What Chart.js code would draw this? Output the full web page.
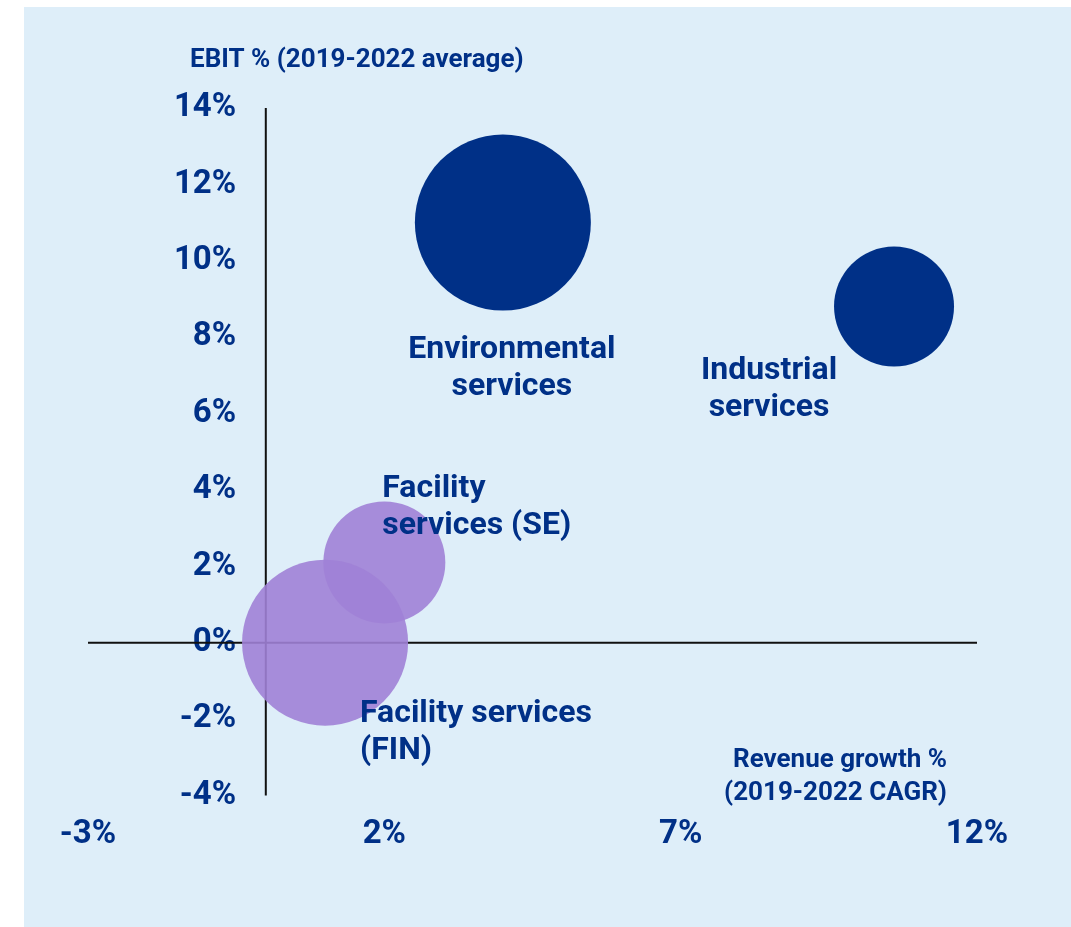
<!DOCTYPE html>
<html>
<head>
<meta charset="utf-8">
<title>Segment profitability and growth</title>
<script src="https://cdn.jsdelivr.net/npm/chart.js@4/dist/chart.umd.min.js"></script>
<style>
  html, body { margin: 0; padding: 0; background: #ffffff; }
  #wrap { width: 1071px; height: 927px; position: relative; }
</style>
</head>
<body>
<div id="wrap"><canvas id="chart" width="1071" height="927"></canvas></div>
<script>
// Business segments and their values
const segments = ['Environmental services', 'Industrial services', 'Facility services (SE)', 'Facility services (FIN)'];
const revenueGrowth = [4.0, 10.6, 2.0, 1.0];      // % revenue growth, 2019-2022 CAGR
const ebitMargin = [11.0, 8.8, 2.1, 0.0];         // % EBIT, 2019-2022 average
const bubbleSize = [88, 60, 61, 83];              // bubble radius
const segmentLabelLines = [
  ['Environmental', 'services'],
  ['Industrial', 'services'],
  ['Facility', 'services (SE)'],
  ['Facility services', '(FIN)']
];
const xTickValues = [-3, 2, 7, 12];
const yTickValues = [-4, -2, 0, 2, 4, 6, 8, 10, 12, 14];
const yAxisTitle = 'EBIT % (2019-2022 average)';
const xAxisTitleLines = ['Revenue growth %', '(2019-2022 CAGR)'];

// Styling
const NAVY = '#003087';
const PURPLE = 'rgba(160, 129, 214, 0.9)';
const PANEL = '#deeef9';
const FONT = 'Roboto, "Liberation Sans", sans-serif';
const WEIGHT = 'bold';
const pointColors = [NAVY, NAVY, PURPLE, PURPLE];
// label anchor relative to bubble centre: dx, dy, alignment
const labelPlacement = [
  { dx: 9, dy: 127, align: 'center' },
  { dx: -125, dy: 64, align: 'center' },
  { dx: -2, dy: -73, align: 'left' },
  { dx: 35, dy: 71, align: 'left' }
];
const LABEL_LINE_GAP = 37;

const panelPlugin = {
  id: 'panel',
  beforeDraw(chart) {
    const ctx = chart.ctx;
    ctx.save();
    ctx.fillStyle = '#ffffff';
    ctx.fillRect(0, 0, chart.width, chart.height);
    ctx.fillStyle = PANEL;
    ctx.fillRect(24, 7, chart.width - 24, chart.height - 7);
    ctx.restore();
  }
};

// Zero lines of both axes, drawn under the bubbles
const zeroLinesPlugin = {
  id: 'zeroLines',
  beforeDatasetsDraw(chart) {
    const { ctx, scales: { x, y } } = chart;
    ctx.save();
    ctx.strokeStyle = '#111111';
    ctx.lineWidth = 2;
    ctx.beginPath();
    const y0 = y.getPixelForValue(0);
    ctx.moveTo(x.getPixelForValue(x.min), y0);
    ctx.lineTo(x.getPixelForValue(x.max), y0);
    const x0 = x.getPixelForValue(0);
    ctx.moveTo(x0, y.getPixelForValue(y.max));
    ctx.lineTo(x0, y.getPixelForValue(y.min));
    ctx.stroke();
    ctx.restore();
  }
};

// Segment names and axis titles
const textPlugin = {
  id: 'texts',
  afterDatasetsDraw(chart) {
    const { ctx, scales: { x, y } } = chart;
    ctx.save();
    ctx.fillStyle = NAVY;
    ctx.textBaseline = 'middle';
    ctx.font = WEIGHT + ' 32px ' + FONT;
    segments.forEach((name, i) => {
      const cx = x.getPixelForValue(revenueGrowth[i]);
      const cy = y.getPixelForValue(ebitMargin[i]);
      const p = labelPlacement[i];
      ctx.textAlign = p.align;
      segmentLabelLines[i].forEach((line, k) => {
        ctx.fillText(line, cx + p.dx, cy + p.dy + k * LABEL_LINE_GAP);
      });
    });
    ctx.font = WEIGHT + ' 26px ' + FONT;
    ctx.textAlign = 'left';
    ctx.fillText(yAxisTitle, 190, 60);
    ctx.textAlign = 'right';
    xAxisTitleLines.forEach((line, k) => {
      ctx.fillText(line, 947, 760 + k * 33);
    });
    ctx.restore();
  }
};

const tickFont = { family: FONT, size: 33, weight: WEIGHT };

new Chart(document.getElementById('chart'), {
  type: 'bubble',
  data: {
    datasets: [{
      label: 'Segments',
      data: segments.map((s, i) => ({ x: revenueGrowth[i], y: ebitMargin[i], r: bubbleSize[i] })),
      backgroundColor: pointColors,
      borderWidth: 0,
      hoverBorderWidth: 0,
      hoverRadius: 0
    }]
  },
  options: {
    responsive: false,
    animation: false,
    events: [],
    layout: { padding: { left: 85, right: 94, top: 108, bottom: 52 } },
    plugins: { legend: { display: false }, tooltip: { enabled: false } },
    scales: {
      x: {
        type: 'linear',
        position: 'bottom',
        min: -3,
        max: 12,
        afterBuildTicks: s => { s.ticks = xTickValues.map(v => ({ value: v })); },
        grid: { display: false, drawTicks: false },
        border: { display: false },
        ticks: {
          padding: 20,
          autoSkip: false,
          maxRotation: 0,
          color: NAVY,
          font: tickFont,
          callback: v => v + '%'
        }
      },
      y: {
        type: 'linear',
        // tick labels end half a unit left of the vertical zero line
        position: { x: -0.5 },
        min: -4,
        max: 14,
        afterBuildTicks: s => { s.ticks = yTickValues.map(v => ({ value: v })); },
        grid: { display: false, drawTicks: false },
        border: { display: false },
        ticks: {
          autoSkip: false,
          color: NAVY,
          font: tickFont,
          callback: v => v + '%'
        }
      }
    }
  },
  plugins: [panelPlugin, zeroLinesPlugin, textPlugin]
});
</script>
</body>
</html>
